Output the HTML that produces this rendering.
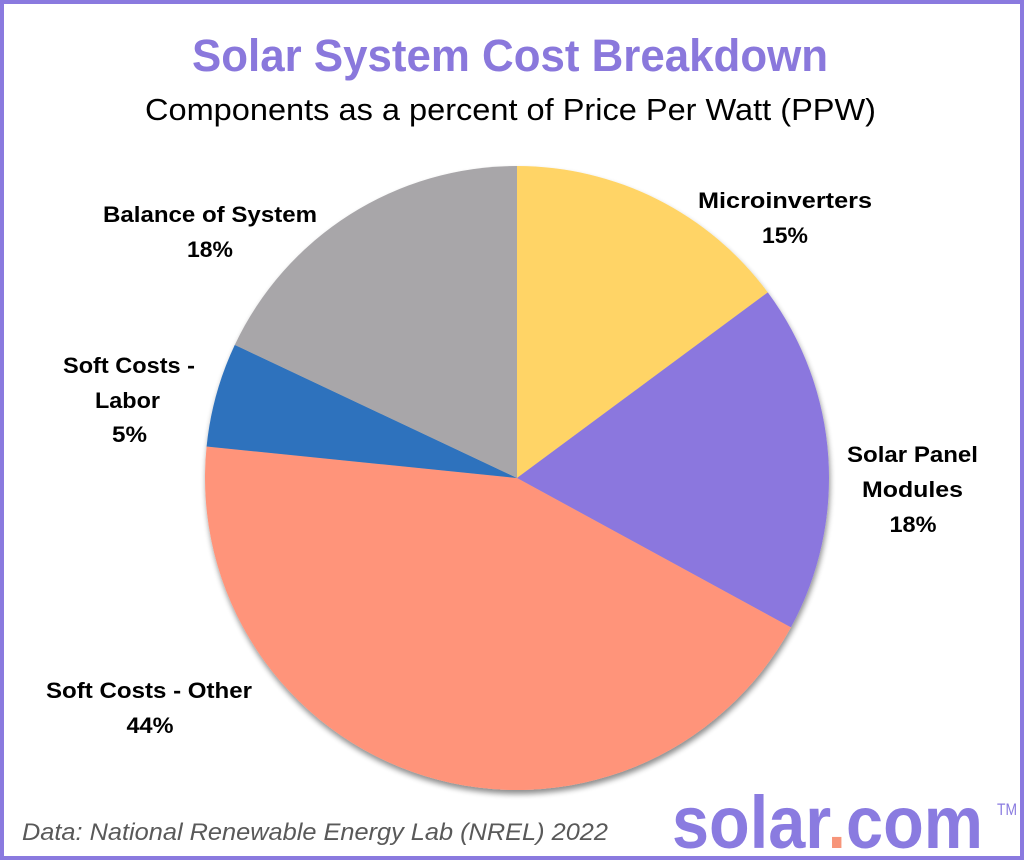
<!DOCTYPE html>
<html>
<head>
<meta charset="utf-8">
<style>
  html, body { margin: 0; padding: 0; background: #ffffff; }
  body { width: 1024px; height: 860px; overflow: hidden; }
  svg { display: block; }
</style>
</head>
<body>
<svg width="1024" height="860" viewBox="0 0 1024 860" xmlns="http://www.w3.org/2000/svg">
  <defs>
    <filter id="sh" x="-10%" y="-10%" width="120%" height="120%">
      <feGaussianBlur in="SourceAlpha" stdDeviation="3"/>
      <feOffset dx="1" dy="4" result="ob"/>
      <feComponentTransfer><feFuncA type="linear" slope="0.45"/></feComponentTransfer>
      <feMerge><feMergeNode/><feMergeNode in="SourceGraphic"/></feMerge>
    </filter>
  </defs>

  <rect x="0" y="0" width="1024" height="860" fill="#ffffff"/>
  <rect x="2" y="2" width="1020" height="856" fill="none" stroke="#8A7ADF" stroke-width="4"/>

  <!-- Title -->
  <text x="510" y="71" text-anchor="middle" font-family="'Liberation Sans', sans-serif" font-weight="bold" font-size="45" fill="#8A78DC" textLength="636" lengthAdjust="spacingAndGlyphs">Solar System Cost Breakdown</text>
  <text x="510.5" y="120" text-anchor="middle" font-family="'Liberation Sans', sans-serif" font-size="31" fill="#000000" textLength="731" lengthAdjust="spacingAndGlyphs">Components as a percent of Price Per Watt (PPW)</text>

  <!-- Pie -->
  <g filter="url(#sh)">
    <path d="M517,478 L517,166 A312,312 0 0 1 767.8,292.4 Z" fill="#FFD466"/>
    <path d="M517,478 L767.8,292.4 A312,312 0 0 1 790.9,627.4 Z" fill="#8B77DE"/>
    <path d="M517,478 L790.9,627.4 A312,312 0 0 1 206.6,446.5 Z" fill="#FF947A"/>
    <path d="M517,478 L206.6,446.5 A312,312 0 0 1 234.8,344.9 Z" fill="#2D72BD"/>
    <path d="M517,478 L234.8,344.9 A312,312 0 0 1 517,166 Z" fill="#A8A6A9"/>
  </g>

  <!-- Labels -->
  <g font-family="'Liberation Sans', sans-serif" font-weight="bold" font-size="22" fill="#000000" text-anchor="middle">
    <text x="785" y="208" textLength="174" lengthAdjust="spacingAndGlyphs">Microinverters</text>
    <text x="785" y="243" textLength="46" lengthAdjust="spacingAndGlyphs">15%</text>

    <text x="912.5" y="462" textLength="131" lengthAdjust="spacingAndGlyphs">Solar Panel</text>
    <text x="912.5" y="497" textLength="101" lengthAdjust="spacingAndGlyphs">Modules</text>
    <text x="913" y="532" textLength="47" lengthAdjust="spacingAndGlyphs">18%</text>

    <text x="210" y="222" textLength="214" lengthAdjust="spacingAndGlyphs">Balance of System</text>
    <text x="210" y="257" textLength="46" lengthAdjust="spacingAndGlyphs">18%</text>

    <text x="129" y="373" textLength="132" lengthAdjust="spacingAndGlyphs">Soft Costs -</text>
    <text x="127.5" y="408" textLength="65" lengthAdjust="spacingAndGlyphs">Labor</text>
    <text x="129.5" y="442" textLength="35" lengthAdjust="spacingAndGlyphs">5%</text>

    <text x="149" y="698" textLength="206" lengthAdjust="spacingAndGlyphs">Soft Costs - Other</text>
    <text x="150" y="733" textLength="47" lengthAdjust="spacingAndGlyphs">44%</text>
  </g>

  <!-- Source -->
  <text x="22" y="840" font-family="'Liberation Sans', sans-serif" font-style="italic" font-size="24" fill="#595959" textLength="586" lengthAdjust="spacingAndGlyphs">Data: National Renewable Energy Lab (NREL) 2022</text>

  <!-- Logo -->
  <text x="672" y="848" font-family="'Liberation Sans', sans-serif" font-weight="bold" font-size="74" fill="#8A7BE0" textLength="311" lengthAdjust="spacingAndGlyphs">solar<tspan fill="#F7957A">.</tspan>com</text>
  <text x="997" y="815" font-family="'Liberation Sans', sans-serif" font-size="17" fill="#8A7BE0" textLength="20" lengthAdjust="spacingAndGlyphs">TM</text>
</svg>
</body>
</html>
